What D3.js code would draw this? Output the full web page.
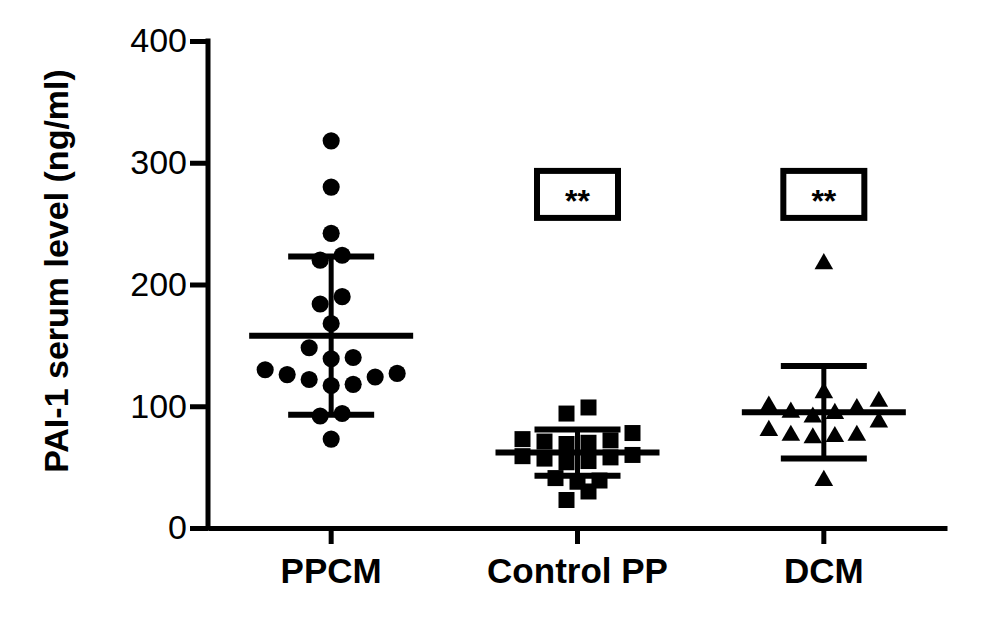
<!DOCTYPE html>
<html>
<head>
<meta charset="utf-8">
<script src="https://cdn.jsdelivr.net/npm/d3@7.9.0/dist/d3.min.js"></script>
<style>
  body { margin: 0; background: #fff; }
  svg { display: block; font-family: 'Liberation Sans', Arial, sans-serif; }
</style>
</head>
<body>
<svg id="chart"></svg>
<script>
// values (ng/ml)
const groups = ['PPCM', 'Control PP', 'DCM'];
const ppcmValues = [318, 280, 242, 224, 220, 190, 184, 168, 148, 140, 139, 130, 127, 126, 124, 122, 118, 117, 94, 92, 73];
const controlValues = [99, 94, 78, 73, 72, 71, 70, 69, 60, 59, 58, 57, 55, 54, 41, 39, 38, 30, 23];
const dcmValues = [217, 111, 104, 100, 98, 95, 94, 91, 87, 80, 76, 76, 75, 74, 39];
const groupMeans = [158, 62, 95];
const groupSDs = [65, 19, 38];
const significance = ['', '**', '**'];
const significanceLevel = 274;
const yTicks = [0, 100, 200, 300, 400];

const groupValues = [ppcmValues, controlValues, dcmValues];
const symbols = [d3.symbolCircle, d3.symbolSquare, d3.symbolTriangle];
const symbolSizes = [230, 256, 150];

const width = 985;
const height = 630;
const axisX = 208, axisRight = 947;
const axisTop = 41, axisBottom = 528;

const svg = d3.select('#chart')
  .attr('width', width)
  .attr('height', height)
  .attr('viewBox', [0, 0, width, height]);

const x = d3.scaleBand()
  .domain(groups)
  .range([axisX, axisRight]);

const y = d3.scaleLinear()
  .domain([0, 400])
  .range([axisBottom, axisTop]);

const cx = (g) => x(g) + x.bandwidth() / 2;

// Prism-style column scatter: points within one symbol height share a row,
// rows are spread symmetrically around the group centre
const rowPx = 17;
const step = 22;
function scatterLayout(values) {
  const sorted = values.slice().sort((a, b) => a - b);
  const rows = [];
  let row = [];
  for (const v of sorted) {
    if (row.length && y(row[0]) - y(v) >= rowPx) {
      rows.push(row);
      row = [];
    }
    row.push(v);
  }
  if (row.length) rows.push(row);

  const out = [];
  for (const r of rows) {
    const n = r.length;
    r.forEach((v, i) => {
      let off;
      if (n % 2) {
        off = i === 0 ? 0 : (i % 2 ? 1 : -1) * Math.ceil(i / 2);
      } else {
        off = (i % 2 ? 1 : -1) * (Math.floor(i / 2) + 0.5);
      }
      out.push({ value: v, dx: off * step });
    });
  }
  return out;
}

// y axis
const yAxis = svg.append('g')
  .attr('transform', `translate(${axisX},0)`)
  .call(d3.axisLeft(y).tickValues(yTicks).tickSize(18).tickSizeOuter(0).tickPadding(3));
yAxis.select('.domain').remove();
yAxis.selectAll('.tick line').attr('stroke', '#000').attr('stroke-width', 5);
yAxis.selectAll('.tick text')
  .attr('fill', '#000')
  .style('font-size', '34px');

svg.append('line')
  .attr('x1', axisX).attr('x2', axisX)
  .attr('y1', y(400) - 2.5).attr('y2', y(0) + 2.5)
  .attr('stroke', '#000').attr('stroke-width', 5);

// x axis
const xAxis = svg.append('g')
  .attr('transform', `translate(0,${axisBottom})`)
  .call(d3.axisBottom(x).tickSize(16).tickSizeOuter(0).tickPadding(14));
xAxis.select('.domain').attr('stroke', '#000').attr('stroke-width', 5);
xAxis.selectAll('.tick line').attr('stroke', '#000').attr('stroke-width', 5);
xAxis.selectAll('.tick text')
  .attr('fill', '#000')
  .style('font-size', '35px')
  .style('font-weight', 'bold');

// y axis title
svg.append('text')
  .attr('transform', 'rotate(-90)')
  .attr('x', -271)
  .attr('y', 68)
  .attr('text-anchor', 'middle')
  .style('font-size', '34px')
  .style('font-weight', 'bold')
  .text('PAI-1 serum level (ng/ml)');

// points
groups.forEach((g, gi) => {
  const pts = scatterLayout(groupValues[gi]);
  svg.append('g')
    .selectAll('path')
    .data(pts)
    .join('path')
    .attr('transform', (d) => `translate(${cx(g) + d.dx},${y(d.value)})`)
    .attr('d', d3.symbol(symbols[gi], symbolSizes[gi]))
    .attr('fill', '#000');
});

// mean and SD bars
const bars = svg.append('g').attr('stroke', '#000');
groups.forEach((g, gi) => {
  const m = groupMeans[gi];
  const s = groupSDs[gi];
  const c = cx(g);
  bars.append('line')
    .attr('x1', c).attr('x2', c)
    .attr('y1', y(m - s)).attr('y2', y(m + s))
    .attr('stroke-width', 5);
  bars.append('line')
    .attr('x1', c - 82).attr('x2', c + 82)
    .attr('y1', y(m)).attr('y2', y(m))
    .attr('stroke-width', 6);
  for (const v of [m - s, m + s]) {
    bars.append('line')
      .attr('x1', c - 43).attr('x2', c + 43)
      .attr('y1', y(v)).attr('y2', y(v))
      .attr('stroke-width', 6);
  }
});

// significance boxes
groups.forEach((g, gi) => {
  if (!significance[gi]) return;
  const c = cx(g);
  const yc = y(significanceLevel);
  svg.append('rect')
    .attr('x', c - 40.5).attr('y', yc - 23.5)
    .attr('width', 81).attr('height', 47)
    .attr('fill', '#fff')
    .attr('stroke', '#000')
    .attr('stroke-width', 6);
  svg.append('text')
    .attr('x', c)
    .attr('y', yc + 18)
    .attr('text-anchor', 'middle')
    .style('font-size', '32px')
    .style('font-weight', 'bold')
    .text(significance[gi]);
});
</script>
</body>
</html>
